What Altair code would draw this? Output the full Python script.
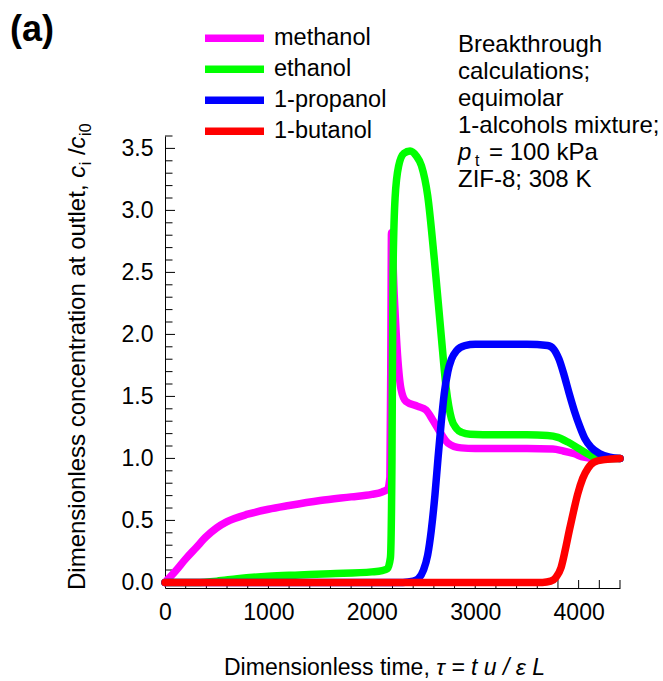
import altair as alt
import pandas as pd

# ---------------- data ----------------
names = ["methanol", "ethanol", "1-propanol", "1-butanol"]
colors = ["#ff00ff", "#00ff00", "#0000ff", "#ff0000"]

meth_tau = [0, 100, 200, 300, 400, 500, 600, 800, 1000, 1200, 1500, 1800, 2000, 2100, 2150, 2175,
            2185, 2190, 2217, 2249, 2282, 2330, 2444, 2524, 2589, 2654, 2735, 2864, 3000, 3500,
            3750, 3850, 3950, 4050, 4150, 4400]
meth_c = [0.0, 0.09, 0.19, 0.28, 0.37, 0.44, 0.49, 0.55, 0.59, 0.62, 0.66, 0.69, 0.71, 0.73, 0.75, 0.85,
          2.0, 2.82, 2.31, 1.83, 1.56, 1.46, 1.42, 1.39, 1.31, 1.22, 1.125, 1.085, 1.08, 1.08,
          1.075, 1.06, 1.04, 1.01, 1.0, 1.0]

eth_tau = [0, 300, 500, 700, 1000, 1300, 1600, 2000, 2100, 2150, 2180, 2195, 2205, 2225, 2260, 2310,
           2370, 2430, 2480, 2540, 2605, 2670, 2720, 2770, 2820, 2870, 2950, 3200, 3500, 3700, 3800,
           3900, 4000, 4100, 4200, 4400]
eth_c = [0.0, 0.0, 0.01, 0.03, 0.05, 0.06, 0.07, 0.085, 0.095, 0.11, 0.2, 1.0, 2.5, 3.1, 3.36, 3.46,
         3.48, 3.44, 3.36, 3.12, 2.6, 2.0, 1.56, 1.32, 1.24, 1.21, 1.195, 1.19, 1.19, 1.185, 1.17,
         1.13, 1.08, 1.03, 1.0, 1.0]

prop_tau = [0, 2300, 2400, 2450, 2500, 2540, 2575, 2610, 2640, 2670, 2700, 2735, 2770, 2820, 2900,
            3000, 3500, 3700, 3760, 3810, 3860, 3910, 3960, 4010, 4060, 4120, 4200, 4300, 4400]
prop_c = [0.0, 0.0, 0.01, 0.03, 0.1, 0.22, 0.42, 0.7, 1.0, 1.28, 1.52, 1.7, 1.8, 1.87, 1.91,
          1.92, 1.92, 1.91, 1.88, 1.8, 1.67, 1.52, 1.38, 1.26, 1.16, 1.09, 1.04, 1.01, 1.0]

but_tau = [0, 3650, 3730, 3780, 3830, 3870, 3910, 3950, 3990, 4040, 4090, 4150, 4250, 4400]
but_c = [0.0, 0.0, 0.01, 0.04, 0.12, 0.26, 0.42, 0.57, 0.71, 0.84, 0.92, 0.97, 0.99, 1.0]

x_labels = [0, 1000, 2000, 3000, 4000]
y_labels = [0.0, 0.5, 1.0, 1.5, 2.0, 2.5, 3.0, 3.5]

annot_lines = ["Breakthrough", "calculations;", "equimolar", "1-alcohols mixture;"]

# ---------------- tables ----------------
rows = []
for n, ts, cs in zip(names, [meth_tau, eth_tau, prop_tau, but_tau], [meth_c, eth_c, prop_c, but_c]):
    for i, (t, c) in enumerate(zip(ts, cs)):
        rows.append({"series": n, "tau": t, "c": c, "i": i})
df = pd.DataFrame(rows)

y_minor = [round(0.1 * k, 1) for k in range(37) if k % 5 != 0]
y_major = [round(0.5 * k, 1) for k in range(8)]
x_minor = [200 * k for k in range(1, 23)]

W, H = 455, 452
FONT = "Liberation Sans"

xscale = alt.Scale(domain=[0, 4400], nice=False, zero=False)
yscale = alt.Scale(domain=[-0.045, 3.6], nice=False, zero=False)
xaxis = alt.Axis(values=x_labels, format="d", labelPadding=13, title=None, grid=False, ticks=False,
                 domainColor="black", labelFontSize=23, labelFont=FONT, labelColor="black",
                 labelFlush=False)
yaxis = alt.Axis(values=y_labels, format=".1f", labelPadding=12, title=None, grid=False, ticks=False,
                 domainColor="black", labelFontSize=23, labelFont=FONT, labelColor="black")

X = lambda f: alt.X(f, scale=xscale, axis=xaxis)
Y = lambda f: alt.Y(f, scale=yscale, axis=yaxis)

color = alt.Color("series:N", scale=alt.Scale(domain=names, range=colors),
                  legend=alt.Legend(orient="none", legendX=36, legendY=-113, title=None,
                                    symbolType="stroke", symbolStrokeWidth=7.5, symbolSize=59 * 59,
                                    labelFontSize=23.5, labelFont=FONT, labelColor="black",
                                    labelOffset=6, clipHeight=30.6, rowPadding=0, padding=0,
                                    symbolOpacity=1))

line_layers = []
for n in names:
    line_layers.append(
        alt.Chart(df).transform_filter(alt.datum.series == n)
        .mark_line(strokeWidth=7.5, strokeCap="round", strokeJoin="round", interpolate="monotone")
        .encode(x=X("tau:Q"), y=Y("c:Q"), color=color, order="i:Q")
    )

ytick_major = alt.Chart(pd.DataFrame({"v": y_major})).mark_rule(color="black", strokeWidth=1).encode(
    y=Y("v:Q"), x=alt.value(0), x2=alt.value(10))
ytick_minor = alt.Chart(pd.DataFrame({"v": y_minor})).mark_rule(color="black", strokeWidth=1).encode(
    y=Y("v:Q"), x=alt.value(0), x2=alt.value(7.5))
xtick = alt.Chart(pd.DataFrame({"v": x_minor})).mark_rule(color="black", strokeWidth=1).encode(
    x=X("v:Q"), y=alt.value(H), y2=alt.value(H - 8))

one = pd.DataFrame({"a": [0]})

# Arial-like advance widths (per 1000 em)
AW = {" ": 278, ",": 278, "/": 278, "D": 722, "i": 222, "m": 833, "e": 556, "n": 556, "s": 500,
      "o": 556, "l": 222, "c": 500, "t": 278, "r": 333, "a": 556, "u": 556, "0": 556, "h": 556}


def tw(s, size):
    return sum(AW.get(ch, 556) for ch in s) * size / 1000.0


def txt(s, x, y, size, style="normal", weight="normal", angle=0, align="left", font=FONT):
    return alt.Chart(one).mark_text(align=align, baseline="alphabetic", fontSize=size, font=font,
                                    fontStyle=style, fontWeight=weight, angle=angle,
                                    color="black").encode(
        x=alt.value(x), y=alt.value(y), text=alt.value(s))


# y-axis title, composed piece by piece (rotated)
YF, SF = 24, 16
ybase = -80
pos = 454
p1 = "Dimensionless concentration at outlet,"
ytitle = [txt(p1, ybase, pos, YF, angle=270)]
pos -= tw(p1 + " ", YF)
ytitle.append(txt("c", ybase, pos, YF, style="italic", angle=270)); pos -= tw("c", YF) + 0.5
ytitle.append(txt("i", ybase + 6, pos, SF, angle=270)); pos -= tw("i", SF) + tw(" ", YF)
ytitle.append(txt("/", ybase, pos, YF, angle=270)); pos -= tw("/", YF)
ytitle.append(txt("c", ybase, pos, YF, style="italic", angle=270)); pos -= tw("c", YF) + 0.5
ytitle.append(txt("i0", ybase + 6, pos, SF, angle=270))

# x-axis title
XF = 23
xt1 = "Dimensionless time,"
xtitle = [txt(xt1, 59, 539, XF),
          txt("\u03c4 = t u / \u03b5 L", 59 + tw(xt1 + " ", XF), 539, XF, style="italic")]

# annotations
AF = 24
ax = 293
annot = [txt(s, ax, y, AF) for s, y in zip(annot_lines, [-84.5, -57.5, -30.5, -3.5])]
annot += [txt("p", ax, 23.5, AF, style="italic"),
          txt("t", ax + 17, 29.5, SF),
          txt("= 100 kPa", ax + 31, 23.5, AF),
          txt("ZIF-8; 308 K", ax, 50.5, AF)]

panel = txt("(a)", -155, -95, 36, weight="bold")

chart = alt.layer(
    ytick_major, ytick_minor, xtick, *line_layers, *ytitle, *xtitle, *annot, panel
).properties(
    width=W, height=H,
    padding={"left": 165, "top": 136, "right": 43, "bottom": 93},
    autosize=alt.AutoSizeParams(type="none"),
    background="white",
).configure_view(stroke=None)

chart.save("out.html", embed_options={"renderer": "svg", "actions": False})
